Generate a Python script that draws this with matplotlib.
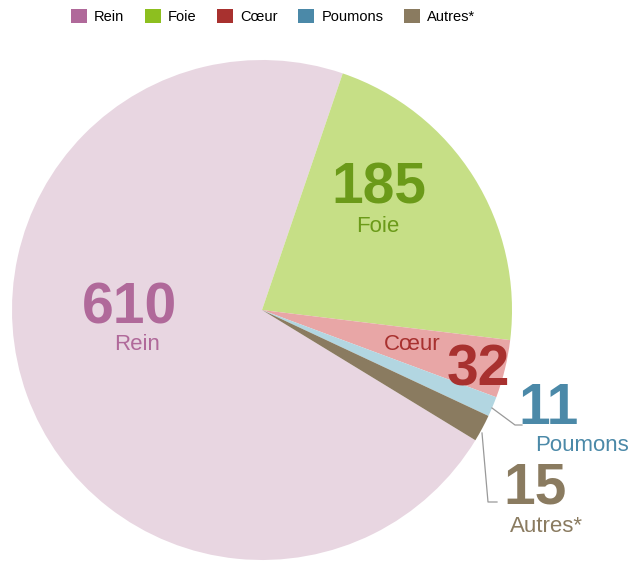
import matplotlib.pyplot as plt
from matplotlib.patches import Patch

plt.rcParams['font.family'] = ['Liberation Sans', 'DejaVu Sans']

# data
organs = ['Rein', 'Foie', 'Cœur', 'Poumons', 'Autres*']
counts = [610, 185, 32, 11, 15]
slice_colors = ['#e8d6e1', '#c6df86', '#e8a6a6', '#b2d6e1', '#8a7b60']
key_colors = ['#b0699a', '#8dbf1f', '#a8312f', '#4b89a8', '#8a7b60']
text_colors = ['#b0699a', '#6b9a19', '#a8312f', '#4b89a8', '#8a7b60']

W, H = 636, 561
cx, cy, R = 262, 310, 250


def to_data(x, y):
    # pixel position in the image -> pie data coordinates
    return (x - cx) / R, (cy - y) / R


fig = plt.figure(figsize=(W / 100, H / 100), dpi=100)
ax = fig.add_axes([(cx - R) / W, (H - cy - R) / H, 2 * R / W, 2 * R / H])
ax.pie(counts, colors=slice_colors, startangle=-31.4, counterclock=False,
       radius=1, wedgeprops=dict(linewidth=0))
ax.set_xlim(-1, 1)
ax.set_ylim(-1, 1)
ax.set_aspect('equal')
ax.axis('off')

# number / label placement (pixel coords: x, baseline y, alignment)
num_pos = [(130, 323, 'center'), (379, 204, 'center'), (478, 385, 'center'),
           (549, 424, 'center'), (503, 504, 'left')]
lab_pos = [(137, 350, 'center'), (378, 232, 'center'), (412, 350, 'center'),
           (535, 451, 'left'), (510, 532, 'left')]

for i in range(len(organs)):
    x, y, ha = num_pos[i]
    ax.text(*to_data(x, y), str(counts[i]), color=text_colors[i], fontsize=41,
            fontweight='bold', ha=ha, va='baseline', clip_on=False)
    x, y, ha = lab_pos[i]
    ax.text(*to_data(x, y), organs[i], color=text_colors[i], fontsize=16,
            ha=ha, va='baseline', clip_on=False)

# leader lines for the small slices
for pts in ([(492, 408), (515, 425), (522, 425)],
            [(482, 433), (488, 502), (497, 502)]):
    xs, ys = zip(*[to_data(px, py) for px, py in pts])
    ax.plot(xs, ys, color='#999999', lw=0.9, clip_on=False)

handles = [Patch(facecolor=c, edgecolor='none') for c in key_colors]
fig.legend(handles, organs, loc='upper left', bbox_to_anchor=(62 / W, 1.0),
           ncol=5, frameon=False, fontsize=10.5, handlelength=1.1,
           handleheight=1.1, handletextpad=0.5, columnspacing=1.4,
           borderaxespad=0.2)

fig.savefig('out.png', dpi=100, facecolor='white')
